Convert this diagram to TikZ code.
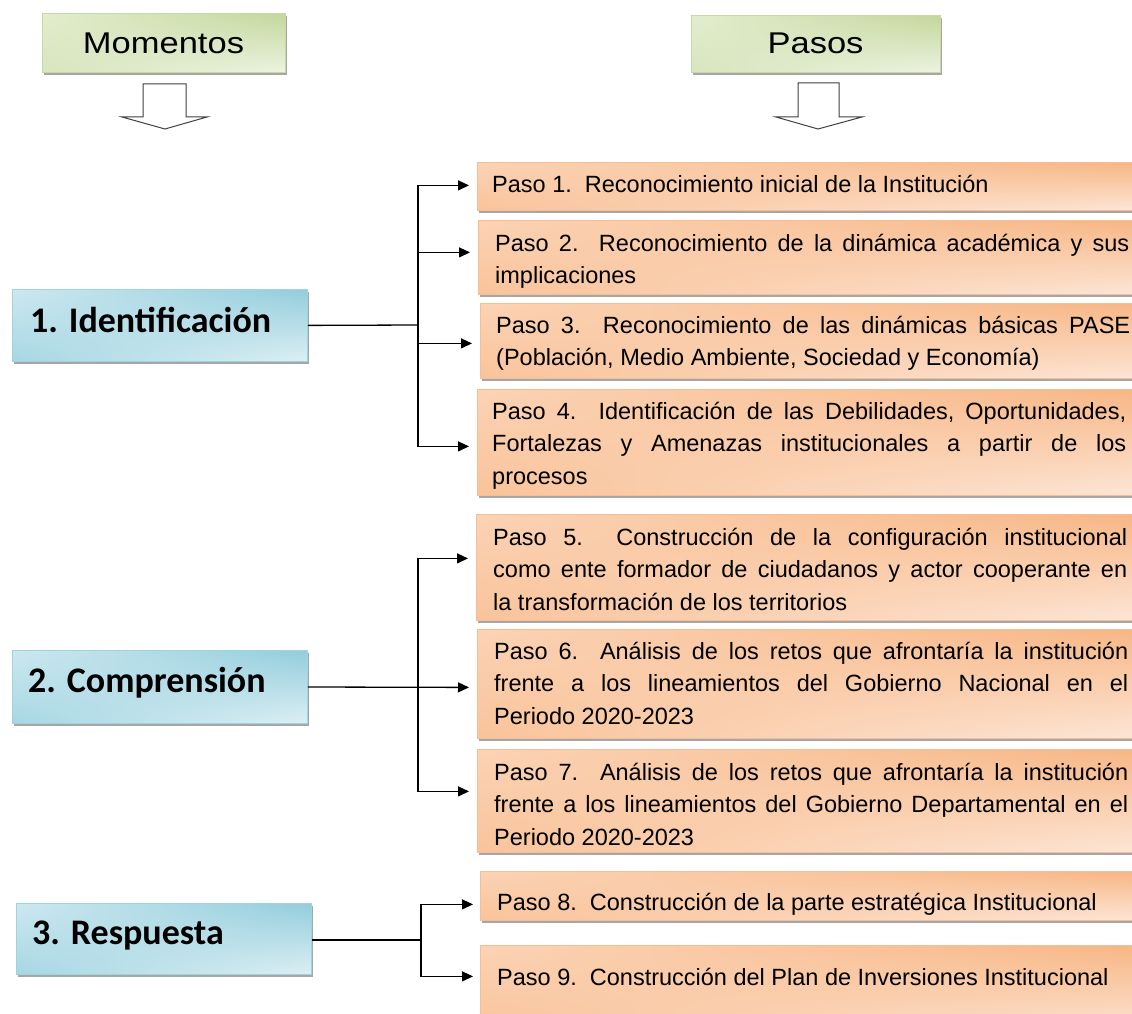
\documentclass[tikz,border=0pt]{standalone}
\usepackage{fontspec}
\setmainfont{Liberation Sans}
\newfontfamily\pfont{Liberation Sans}
\newfontfamily\hfont{Liberation Sans}[FakeStretch=1.15]
\newfontfamily\lfont{Carlito}
\usetikzlibrary{arrows.meta,shadows,shadings,calc}
\definecolor{oUL}{HTML}{FBD3B5}
\definecolor{oUR}{HTML}{F7B583}
\definecolor{oLL}{HTML}{F9C39A}
\definecolor{oLR}{HTML}{FDE7D8}
\definecolor{oB}{HTML}{F7BE95}
\definecolor{bUL}{HTML}{CDE8F0}
\definecolor{bUR}{HTML}{92CDDC}
\definecolor{bLL}{HTML}{A6D7E3}
\definecolor{bLR}{HTML}{DDEFF4}
\definecolor{bB}{HTML}{9FD3E0}
\definecolor{gUL}{HTML}{E3EDCE}
\definecolor{gUR}{HTML}{C3D79C}
\definecolor{gLL}{HTML}{D8E5BE}
\definecolor{gLR}{HTML}{EDF3E1}
\definecolor{gB}{HTML}{C6DAA2}
\newcommand\jline[1]{\hbox to\linewidth{#1}\par}
\newcommand\ptx[1]{\parbox[t]{634pt}{\raggedright #1}}
\tikzset{
  shad/.style={drop shadow={shadow xshift=2pt,shadow yshift=-3pt,opacity=0.35,fill=black}},
  obox/.style={shad,draw=oB,line width=0.8pt,shade,upper left=oUL,upper right=oUR,
    lower left=oLL,lower right=oLR,inner sep=0pt,anchor=north west,minimum width=680pt},
  bbox/.style={shad,draw=bB,line width=0.8pt,shade,upper left=bUL,upper right=bUR,
    lower left=bLL,lower right=bLR,inner sep=0pt,anchor=north west},
  gbox/.style={shad,draw=gB,line width=0.8pt,shade,upper left=gUL,upper right=gUR,
    lower left=gLL,lower right=gLR,inner sep=0pt,anchor=north west},
  ptext/.style={font=\pfont\fontsize{23.5}{32.5}\selectfont\frenchspacing,
    inner sep=0pt,anchor=base west},
  ltext/.style={font=\lfont\bfseries\fontsize{36}{40}\selectfont,inner sep=0pt,anchor=base west},
  htext/.style={font=\hfont\fontsize{30}{34}\selectfont,inner sep=0pt,anchor=base},
  harrow/.style={draw=black!75,line width=1pt,fill=white,line join=miter},
  conn/.style={draw=black,line width=1.3pt},
  arr/.style={conn,-{Triangle[length=11pt,width=10pt]}},
}
\begin{document}
\begin{tikzpicture}[x=1pt,y=-1pt]
\useasboundingbox (0,0) rectangle (1132,1014);
\clip (0,0) rectangle (1132,1014);
\fill[white] (0,0) rectangle (1132,1014);

% headers
\node[gbox,minimum width=243pt,minimum height=59pt] (hm) at (42,13) {};
\node[htext] (hmt) at (163.5,54) {Momentos};
\node[gbox,minimum width=249pt,minimum height=57pt] (hp) at (691,15) {};
\node[htext] (hpt) at (815.5,54) {Pasos};
\draw[harrow] (143,84) -- (143,117) -- (122,117) -- (165,129) -- (207,117) -- (186,117) -- (186,84) -- cycle;
\draw[harrow] (798,83) -- (798,117) -- (776,117) -- (818,129) -- (862,117) -- (839,117) -- (839,83) -- cycle;

% moments
\node[bbox,minimum width=295pt,minimum height=72pt] (m1) at (12,289) {};
\node[ltext] (m1t) at (30,332) {1. Identificación};
\node[bbox,minimum width=295pt,minimum height=73pt] (m2) at (12,650) {};
\node[ltext] (m2t) at (28,692) {2. Comprensión};
\node[bbox,minimum width=295pt,minimum height=71pt] (m3) at (16,903) {};
\node[ltext] (m3t) at (32,944) {3. Respuesta};

% steps boxes
\node[obox,minimum height=48pt] (p1) at (477,162) {};
\node[obox,minimum height=74pt] (p2) at (478,220) {};
\node[obox,minimum height=75pt] (p3) at (480,303) {};
\node[obox,minimum height=106pt] (p4) at (477,389) {};
\node[obox,minimum height=106pt] (p5) at (476,514) {};
\node[obox,minimum height=109pt] (p6) at (477,629) {};
\node[obox,minimum height=103pt] (p7) at (477,749) {};
\node[obox,minimum height=49pt] (p8) at (480,871) {};
\node[obox,minimum height=90pt] (p9) at (480,945) {};

% steps texts
\node[ptext] (t1) at (492,192) {Paso 1.~ Reconocimiento inicial de la Institución};
\node[ptext] (t2) at (495,251) {\ptx{\jline{Paso 2.~ Reconocimiento de la dinámica académica y sus}implicaciones}};
\node[ptext] (t3) at (496,333) {\ptx{\jline{Paso 3.~ Reconocimiento de las dinámicas básicas PASE}(Población, Medio Ambiente, Sociedad y Economía)}};
\node[ptext] (t4) at (492,419) {\ptx{\jline{Paso 4.~ Identificación de las Debilidades, Oportunidades,}\jline{Fortalezas y Amenazas institucionales a partir de los}procesos}};
\node[ptext] (t5) at (493,545) {\ptx{\jline{Paso 5.~ Construcción de la configuración institucional}\jline{como ente formador de ciudadanos y actor cooperante en}la transformación de los territorios}};
\node[ptext] (t6) at (494,659) {\ptx{\jline{Paso 6.~ Análisis de los retos que afrontaría la institución}\jline{frente a los lineamientos del Gobierno Nacional en el}Periodo 2020-2023}};
\node[ptext] (t7) at (494,780) {\ptx{\jline{Paso 7.~ Análisis de los retos que afrontaría la institución}\jline{frente a los lineamientos del Gobierno Departamental en el}Periodo 2020-2023}};
\node[ptext] (t8) at (497,910) {Paso 8.~ Construcción de la parte estratégica Institucional};
\node[ptext] (t9) at (497,985) {Paso 9.~ Construcción del Plan de Inversiones Institucional};

% connectors group 1
\coordinate (j1) at (418,325);
\draw[conn] (m1.east) -- (j1);
\draw[arr] (j1) |- ([xshift=-8pt,yshift=1pt]p1.west);
\draw[arr] (j1) |- ([xshift=-8pt,yshift=5pt]p2.west);
\draw[arr] (j1) |- ([xshift=-8pt,yshift=-2.5pt]p3.west);
\draw[arr] (j1) |- ([xshift=-8pt,yshift=-4pt]p4.west);

% connectors group 2
\coordinate (j2) at (418,687);
\draw[arr] (m2.east |- j2) -- ([xshift=-8pt,yshift=-3.5pt]p6.west);
\draw[arr] (j2) |- ([xshift=-8pt,yshift=9pt]p5.west);
\draw[arr] (j2) |- ([xshift=-8pt,yshift=9.5pt]p7.west);

% connectors group 3
\coordinate (j3) at (421,940);
\draw[conn] (m3.east |- j3) -- (j3);
\draw[arr] (j3) |- ([xshift=-7pt,yshift=-8.5pt]p8.west);
\draw[arr] (j3) |- ([xshift=-7pt,yshift=14pt]p9.west);
\end{tikzpicture}
\end{document}
